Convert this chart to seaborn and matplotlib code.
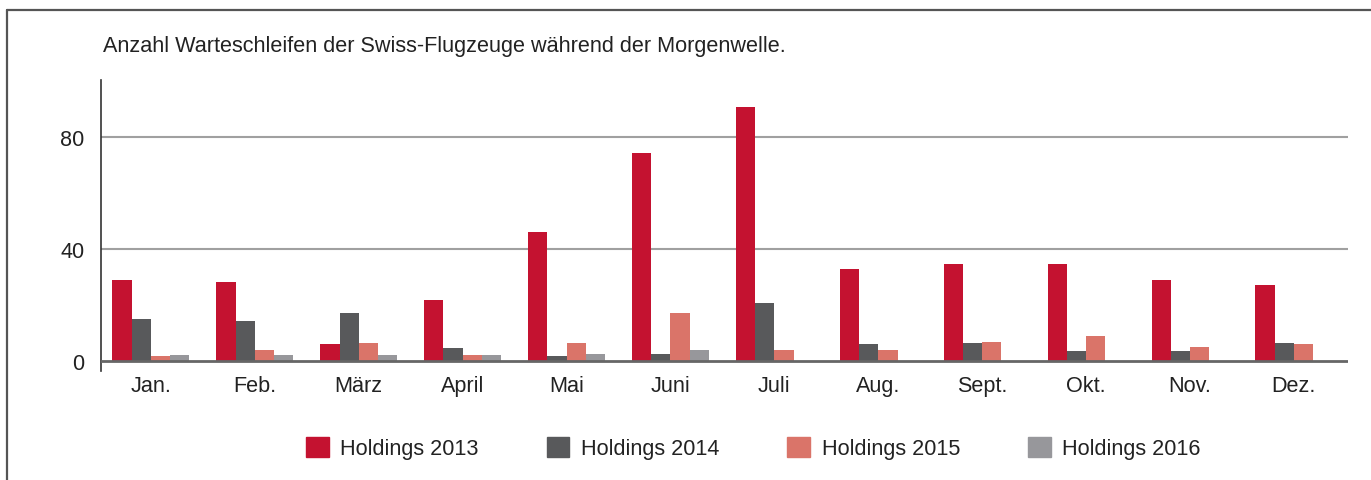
import seaborn as sns
import numpy as np
import pandas as pd
import matplotlib.pyplot as plt
from matplotlib.lines import Line2D

months = ["Jan.", "Feb.", "März", "April", "Mai", "Juni", "Juli",
          "Aug.", "Sept.", "Okt.", "Nov.", "Dez."]
holdings_2013 = [29, 28.4, 6.2, 22, 46.3, 74.5, 90.9, 33, 34.8, 34.8, 29, 27.3]
holdings_2014 = [15, 14.5, 17.3, 4.8, 2, 2.7, 20.9, 6.2, 6.6, 3.7, 3.7, 6.6]
holdings_2015 = [2, 4.1, 6.6, 2.3, 6.6, 17.3, 4.1, 4.1, 7, 9.1, 5.2, 6.2]
holdings_2016 = [2.3, 2.3, 2.3, 2.3, 2.7, 4.1, 0, 0, 0, 0, 0, 0]
series_names = ["Holdings 2013", "Holdings 2014", "Holdings 2015", "Holdings 2016"]
colors = ["#C41230", "#58595B", "#DA7469", "#97979B"]

df = pd.DataFrame({
    "Monat": months * 4,
    "Serie": np.repeat(series_names, len(months)),
    "Wert": holdings_2013 + holdings_2014 + holdings_2015 + holdings_2016,
})

sns.set_style("white")
plt.rcParams["font.family"] = ["Liberation Sans", "DejaVu Sans"]
fs = 15.6

fig = plt.figure(figsize=(13.71, 4.81), dpi=100)
ax = fig.add_axes([0.0737, 0.2266, 0.9095, 0.606])

sns.barplot(data=df, x="Monat", y="Wert", hue="Serie", palette=colors,
            width=0.74, saturation=1, linewidth=0, ax=ax, legend=False)

ax.set_ylim(-3.4, 100.7)
ax.set_xlim(-0.48, 11.52)
ax.set_yticks([0, 40, 80])
ax.tick_params(axis="y", length=6, width=1.5, color="#a0a0a0", labelsize=fs,
               pad=6, labelcolor="#222222")
ax.tick_params(axis="x", length=0, labelsize=fs, pad=3, labelcolor="#222222")
ax.set_xlabel("")
ax.set_ylabel("")
for y in [40, 80]:
    ax.axhline(y, color="#a0a0a0", lw=1.5, zorder=0)
ax.axhline(0, color="#666666", lw=2, zorder=3)
for s in ["top", "right", "bottom"]:
    ax.spines[s].set_visible(False)
ax.spines["left"].set_color("#333333")
ax.spines["left"].set_linewidth(1.2)

fig.text(0.0751, 0.904, "Anzahl Warteschleifen der Swiss-Flugzeuge während der Morgenwelle.",
         fontsize=fs, color="#222222", va="center")

handles = [plt.Rectangle((0, 0), 1, 1, color=c) for c in colors]
fig.legend(handles, series_names, loc="center", bbox_to_anchor=(0.5495, 0.066),
           ncol=4, frameon=False, fontsize=fs, handlelength=1.05, handleheight=1.05,
           handletextpad=0.55, columnspacing=3.12, labelcolor="#222222")

# frame lines of the surrounding box
fig.add_artist(Line2D([7 / 1371, 1], [1 - 11 / 481, 1 - 11 / 481], color="#555555", lw=1.6))
fig.add_artist(Line2D([7 / 1371, 7 / 1371], [0, 1 - 11 / 481], color="#555555", lw=1.6))

fig.savefig("out.png", dpi=100)
